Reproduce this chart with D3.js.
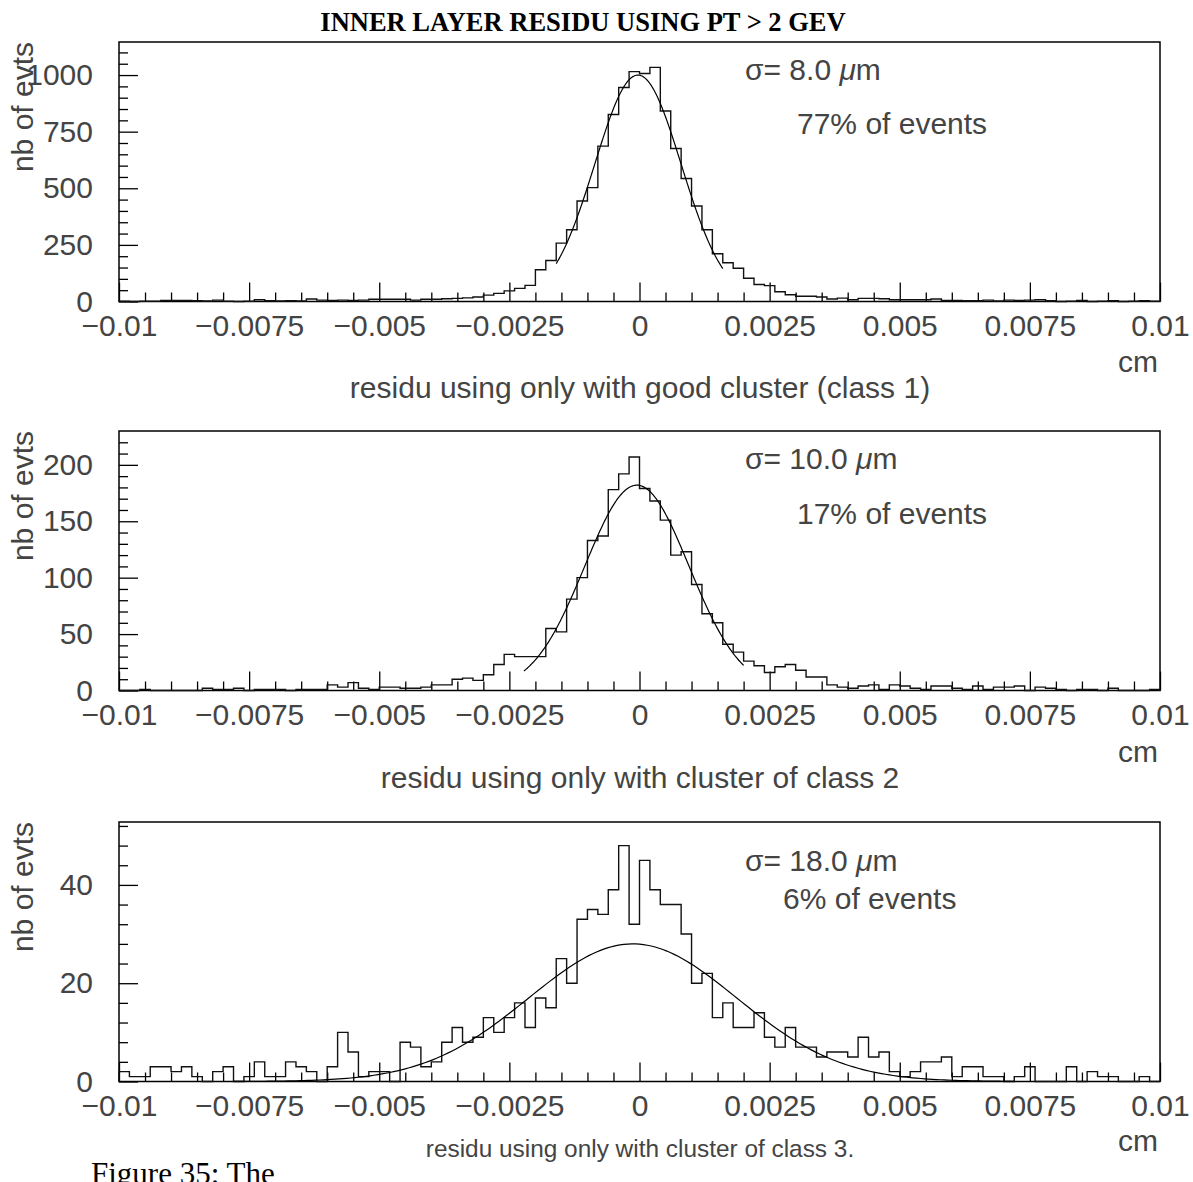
<!DOCTYPE html>
<html>
<head>
<meta charset="utf-8">
<script src="https://cdn.jsdelivr.net/npm/d3@7/dist/d3.min.js"></script>
<style>
  body { margin: 0; background: #fff; }
  svg text { font-family: "Liberation Sans", Arial, sans-serif; fill: #444; }
</style>
</head>
<body>
<svg id="fig" width="1193" height="1182"></svg>
<script>
// residual histograms, 100 bins of 0.0002 cm between -0.01 and 0.01
const xDomain = [-0.01, 0.01];
const binWidth = 0.0002;
const xTicks = [-0.01, -0.0075, -0.005, -0.0025, 0, 0.0025, 0.005, 0.0075, 0.01];
const xTickLabels = ["\u22120.01", "\u22120.0075", "\u22120.005", "\u22120.0025", "0", "0.0025", "0.005", "0.0075", "0.01"];

const class1Counts = [
  1, 0, 1, 1, 5, 5, 5, 3, 2, 6,
  1, 0, 1, 8, 3, 2, 3, 2, 11, 6,
  5, 6, 5, 6, 10, 10, 10, 10, 6, 10,
  10, 12, 14, 16, 20, 28, 36, 47, 58, 71,
  140, 181, 258, 317, 444, 503, 686, 826, 945, 1015,
  1007, 1034, 841, 676, 543, 422, 317, 211, 171, 147,
  103, 75, 70, 43, 30, 23, 23, 20, 11, 15,
  8, 14, 14, 12, 8, 8, 8, 8, 11, 5,
  5, 3, 3, 6, 2, 6, 5, 6, 8, 3,
  0, 1, 5, 0, 1, 3, 0, 1, 4, 1
];
const class2Counts = [
  0, 0, 1, 0, 0, 0, 0, 0, 2, 1,
  1, 2, 0, 1, 1, 1, 0, 1, 1, 1,
  5, 3, 7, 2, 1, 3, 3, 2, 2, 3,
  5, 5, 10, 11, 9, 14, 23, 32, 30, 30,
  30, 55, 52, 81, 100, 133, 137, 178, 192, 207,
  179, 168, 151, 120, 123, 94, 68, 60, 41, 34,
  26, 22, 16, 21, 23, 18, 12, 12, 5, 3,
  2, 4, 5, 1, 5, 4, 2, 1, 4, 4,
  2, 1, 4, 1, 3, 3, 4, 0, 3, 2,
  1, 0, 1, 1, 0, 2, 0, 0, 0, 1
];
const class3Counts = [
  2, 1, 1, 3, 3, 2, 3, 1, 0, 2,
  3, 0, 1, 4, 1, 1, 4, 3, 2, 0,
  3, 10, 6, 1, 2, 2, 0, 8, 7, 3,
  4, 8, 11, 8, 9, 13, 10, 13, 16, 11,
  17, 15, 25, 20, 33, 35, 34, 39, 48, 32,
  45, 39, 36, 36, 30, 20, 22, 13, 16, 11,
  11, 14, 9, 7, 11, 7, 7, 5, 6, 6,
  5, 9, 5, 6, 2, 1, 2, 4, 4, 5,
  1, 3, 3, 1, 1, 0, 1, 3, 0, 0,
  0, 3, 0, 2, 1, 1, 0, 0, 1, 0
];

const yTicks1 = [0, 250, 500, 750, 1000];
const yTicks2 = [0, 50, 100, 150, 200];
const yTicks3 = [0, 20, 40];
const yMax = [1146, 230, 52.8];
const yMinorStep = [50, 10, 4];

// gaussian fits
const fitAmp = [1000, 182, 28];
const fitMean = [-0.00003, -0.00005, -0.00013];
const fitSigma = [0.00083, 0.001, 0.002];
const fitFrom = [-0.0016, -0.00222, -0.0078];
const fitTo = [0.0016, 0.002, 0.0072];

const sigmaLabels = ["8.0", "10.0", "18.0"];
const fractionLabels = ["77% of events", "17% of events", "6% of events"];
const xTitles = [
  "residu using only with good cluster (class 1)",
  "residu using only with cluster of class 2",
  "residu using only with cluster of class 3."
];
const mainTitle = "INNER LAYER RESIDU USING PT > 2 GEV";
const captionStart = "Figure 35:  The";

const svg = d3.select("#fig");
svg.append("rect").attr("width", 1193).attr("height", 1182).attr("fill", "#fff");

// start of the page caption, cut by the bottom edge
svg.append("text")
  .attr("x", 91).attr("y", 1184)
  .style("font-family", "'Liberation Serif', serif")
  .style("font-size", "31px")
  .style("fill", "#000")
  .text(captionStart);

svg.append("text")
  .attr("x", 583).attr("y", 31)
  .attr("text-anchor", "middle")
  .style("font-family", "'Liberation Serif', serif")
  .style("font-weight", "bold")
  .style("font-size", "26.5px")
  .style("fill", "#000")
  .text(mainTitle);

const x = d3.scaleLinear().domain(xDomain).range([119, 1160]);

const panels = [
  { counts: class1Counts, ticks: yTicks1, top: 42, sig: [745, 80], frac: [797, 134], title: 398, titleSize: 30, cm: 372 },
  { counts: class2Counts, ticks: yTicks2, top: 431, sig: [745, 469], frac: [797, 524], title: 788, titleSize: 30, cm: 762 },
  { counts: class3Counts, ticks: yTicks3, top: 822, sig: [745, 871], frac: [783, 909], title: 1157, titleSize: 24.4, cm: 1151 }
];
const frameH = 259.5;

panels.forEach((p, k) => {
  const bottom = p.top + frameH;
  const y = d3.scaleLinear().domain([0, yMax[k]]).range([bottom, p.top]);
  const g = svg.append("g");

  // x axis: major + minor ticks pointing inward
  const minorX = d3.range(-0.01, 0.01 + 1e-9, 0.0005).filter(v => !xTicks.some(t => Math.abs(t - v) < 1e-9));
  g.append("g").attr("transform", `translate(0,${bottom})`)
    .call(d3.axisBottom(x).tickValues(minorX).tickSize(-9).tickFormat(""))
    .call(a => a.select(".domain").remove());
  g.append("g").attr("transform", `translate(0,${bottom})`)
    .call(d3.axisBottom(x).tickValues(xTicks).tickSize(-19).tickPadding(13)
      .tickFormat((d, i) => xTickLabels[i]))
    .call(a => a.select(".domain").remove())
    .call(a => a.selectAll("text").attr("font-size", 30).attr("font-family", null).attr("fill", null));

  // y axis
  const minorY = d3.range(0, yMax[k], yMinorStep[k]).filter(v => !p.ticks.includes(v));
  g.append("g").attr("transform", `translate(119,0)`)
    .call(d3.axisLeft(y).tickValues(minorY).tickSize(-9).tickFormat(""))
    .call(a => a.select(".domain").remove());
  g.append("g").attr("transform", `translate(119,0)`)
    .call(d3.axisLeft(y).tickValues(p.ticks).tickSize(-19).tickPadding(26).tickFormat(d3.format("d")))
    .call(a => a.select(".domain").remove())
    .call(a => a.selectAll("text").attr("font-size", 30).attr("font-family", null).attr("fill", null));

  g.selectAll(".tick line").attr("stroke", "#000").attr("stroke-width", 1.3);

  // frame
  g.append("rect")
    .attr("x", x(xDomain[0])).attr("y", p.top)
    .attr("width", x(xDomain[1]) - x(xDomain[0])).attr("height", frameH)
    .attr("fill", "none").attr("stroke", "#000").attr("stroke-width", 1.5);

  // histogram outline
  const pts = [[xDomain[0], 0]]
    .concat(p.counts.map((v, i) => [xDomain[0] + i * binWidth, v]))
    .concat([[xDomain[1], p.counts[p.counts.length - 1]], [xDomain[1], 0]]);
  g.append("path")
    .attr("d", d3.line().x(d => x(d[0])).y(d => y(d[1])).curve(d3.curveStepAfter)(pts))
    .attr("fill", "none").attr("stroke", "#111").attr("stroke-width", 1.4);

  // gaussian fit
  const fx = d3.range(fitFrom[k], fitTo[k], (fitTo[k] - fitFrom[k]) / 200).concat([fitTo[k]]);
  const gauss = v => fitAmp[k] * Math.exp(-0.5 * Math.pow((v - fitMean[k]) / fitSigma[k], 2));
  g.append("path")
    .attr("d", d3.line().x(d => x(d)).y(d => y(gauss(d))).curve(d3.curveLinear)(fx))
    .attr("fill", "none").attr("stroke", "#000").attr("stroke-width", 1.2);

  // labels
  g.append("text")
    .attr("transform", `translate(33,${p.top}) rotate(-90)`)
    .attr("text-anchor", "end")
    .attr("font-size", 30)
    .text("nb of evts");
  g.append("text")
    .attr("x", 1158).attr("y", p.cm)
    .attr("text-anchor", "end")
    .attr("font-size", 30)
    .text("cm");
  g.append("text")
    .attr("x", 640).attr("y", p.title)
    .attr("text-anchor", "middle")
    .attr("font-size", p.titleSize)
    .text(xTitles[k]);

  const s = g.append("text")
    .attr("x", p.sig[0]).attr("y", p.sig[1])
    .attr("font-size", 30);
  s.append("tspan").text(`\u03c3= ${sigmaLabels[k]} `);
  s.append("tspan").attr("font-style", "italic").text("\u03bc");
  s.append("tspan").text("m");
  g.append("text")
    .attr("x", p.frac[0]).attr("y", p.frac[1])
    .attr("font-size", 30)
    .text(fractionLabels[k]);
});
</script>
</body>
</html>
